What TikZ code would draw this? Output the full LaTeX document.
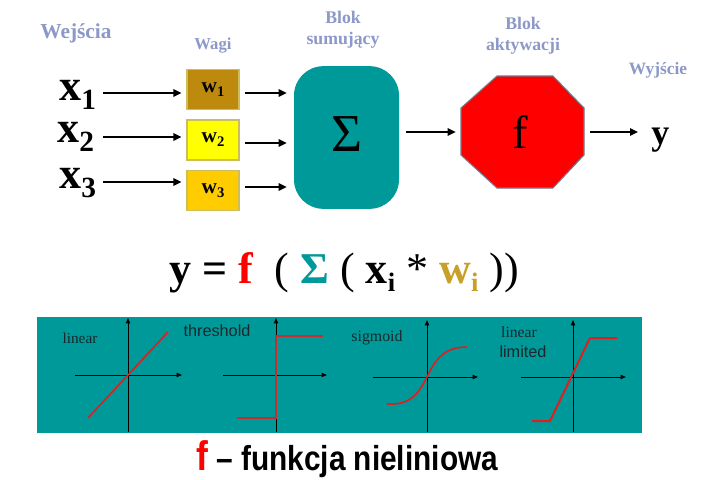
\documentclass[tikz,border=0pt]{standalone}
\usepackage{fontspec}
\setmainfont{Liberation Serif}
\setsansfont{Liberation Sans}
\usetikzlibrary{arrows.meta,calc}
\definecolor{labc}{RGB}{140,152,200}
\definecolor{tealc}{RGB}{0,153,153}
\definecolor{wonec}{RGB}{190,138,14}
\definecolor{wtwoc}{RGB}{255,255,0}
\definecolor{wthreec}{RGB}{255,204,0}
\definecolor{wborder}{RGB}{205,190,90}
\definecolor{wtext}{RGB}{200,160,40}
\definecolor{octborder}{RGB}{110,123,139}
\definecolor{gtext}{RGB}{25,40,45}
\definecolor{curvec}{RGB}{225,30,30}
\definecolor{threshc}{RGB}{200,45,45}
\newcommand{\thinp}[1]{{\mdseries #1}}
\tikzset{
  lab/.style={text=labc, font=\bfseries\fontsize{13.3}{15.8}\selectfont, align=center, inner sep=0pt},
  inp/.style={font=\bfseries\fontsize{33}{33}\selectfont, inner sep=0pt, anchor=base west},
  wbox/.style={draw=wborder, line width=0.8pt, minimum width=39pt, minimum height=29.5pt, inner sep=0pt, font=\bfseries\fontsize{16}{16}\selectfont},
  arr/.style={line width=1.6pt, -{Triangle[length=6pt,width=5.5pt]}},
  sumbox/.style={fill=tealc, rounded corners=22pt, minimum width=78.75pt, minimum height=107pt, inner sep=0pt},
  axis/.style={line width=0.7pt, -{Triangle[length=4pt,width=3.2pt]}},
  gl/.style={text=gtext, inner sep=0pt},
  curve/.style={curvec, line width=1.2pt},
}
\begin{document}
\begin{tikzpicture}[x=0.75pt,y=-0.75pt]
\useasboundingbox[fill=white] (0,0) rectangle (704,479);

% top labels
\node[lab, font=\bfseries\fontsize{16}{18}\selectfont] (wej) at (76,33) {Wejścia};
\node[lab, font=\bfseries\fontsize{12.5}{14}\selectfont] (wagi) at (213,46) {Wagi};
\node[lab] (bsum) at (343,30) {Blok\\sumujący};
\node[lab] (bakt) at (523,36) {Blok\\aktywacji};
\node[lab, font=\bfseries\fontsize{13}{15}\selectfont] (wyj) at (658,70) {Wyjście};

% inputs
\node[inp] (x1) at (59,100) {x\raisebox{-7pt}{\fontsize{22}{22}\selectfont 1}};
\node[inp] (x2) at (57,142) {x\raisebox{-7pt}{\fontsize{22}{22}\selectfont 2}};
\node[inp] (x3) at (59,188) {x\raisebox{-7pt}{\fontsize{22}{22}\selectfont 3}};

% weights
\node[wbox, fill=wonec] (w1) at (213,89.5) {w\raisebox{-3pt}{\fontsize{11}{11}\selectfont 1}};
\node[wbox, fill=wtwoc, minimum height=30pt] (w2) at (213,140) {w\raisebox{-3pt}{\fontsize{11}{11}\selectfont 2}};
\node[wbox, fill=wthreec] (w3) at (213,190.5) {w\raisebox{-3pt}{\fontsize{11}{11}\selectfont 3}};

% sum block
\node[sumbox] (sum) at (346.5,137.5) {};
\node[inner sep=0pt, font=\fontsize{40}{40}\selectfont] (sig) at (347,134.5) {Σ};

% activation block
\node[minimum width=92.25pt, minimum height=84pt, inner sep=0pt] (act) at (522.5,132) {};
\draw[fill=red, draw=octborder, line width=0.8pt]
  (497,76) -- (553,76) -- (584,108) -- (584,155) -- (553,188) -- (497,188) -- (461,155) -- (461,108) -- cycle;
\node[inner sep=0pt, font=\fontsize{35}{35}\selectfont] (fn) at (520,132) {f};

% output
\node[inner sep=0pt, anchor=base west, font=\bfseries\fontsize{27}{27}\selectfont] (y) at (651,144) {y};

% arrows
\draw[arr] ($(w1.west)+(-83,3.5)$) -- ($(w1.west)+(-5,3.5)$);
\draw[arr] ($(w2.west)+(-83,-3)$) -- ($(w2.west)+(-5,-3)$);
\draw[arr] ($(w3.west)+(-83,-8.5)$) -- ($(w3.west)+(-5,-8.5)$);
\draw[arr] ($(w1.east)+(5,3.5)$) -- ($(w1.east -| sum.west)+(-7,3.5)$);
\draw[arr] ($(w2.east)+(5,3)$) -- ($(w2.east -| sum.west)+(-7,3)$);
\draw[arr] ($(w3.east)+(5,-3.5)$) -- ($(w3.east -| sum.west)+(-7,-3.5)$);
\draw[arr] ($(sum.east |- act.west)+(7,0)$) -- ($(act.west)+(-5,0)$);
\draw[arr] ($(act.east)+(6,0)$) -- ($(y.west |- act.east)+(-13,0)$);

% equation
\node[inner sep=0pt, anchor=base, font=\bfseries\fontsize{33}{33}\selectfont] (eq) at (344,283)
  {y = \textcolor{red}{f}\ \ \thinp{(} \textcolor{tealc}{Σ} \thinp{(} x\raisebox{-6pt}{\fontsize{20}{20}\selectfont i} \thinp{*} \textcolor{wtext}{w\raisebox{-6pt}{\fontsize{20}{20}\selectfont i}} \thinp{))}};

% bottom panel
\node[fill=tealc, minimum width=453.75pt, minimum height=87pt, inner sep=0pt] (panel) at (339.5,375) {};

% graph 1 linear
\draw[axis] (75,375) -- (182,375);
\draw[axis] (128,432) -- (128,318);
\draw[curve] (88,418) -- (168,332);
\node[gl, font=\fontsize{11.5}{12}\selectfont] (t1) at (80,338) {linear};

% graph 2 threshold
\draw[axis] (223,375) -- (327,375);
\draw[axis] (276,432) -- (276,318);
\draw[threshc, line width=2pt] (237,418) -- (276,418) -- (276,336) -- (323,336);
\node[gl, font=\sffamily\fontsize{12.2}{13}\selectfont] (t2) at (217,331) {threshold};

% graph 3 sigmoid
\draw[axis] (373,377) -- (478,377);
\draw[axis] (427,432) -- (427,320);
\draw[curve] (387,404) .. controls (410,405) and (418,395) .. (427,377) .. controls (436,358) and (445,347) .. (467,347);
\node[gl, font=\fontsize{11.9}{12}\selectfont] (t3) at (377,338) {sigmoid};

% graph 4 linear limited
\draw[axis] (521,377) -- (626,377);
\draw[axis] (573,432) -- (573,320);
\draw[curve, line width=1.5pt] (532,421) -- (550,421) -- (590,338) -- (617,338);
\node[gl, font=\fontsize{11.7}{12}\selectfont] (t4a) at (519,332) {linear};
\node[gl, font=\sffamily\fontsize{12.2}{13}\selectfont] (t4b) at (523,352) {limited};

% bottom caption
\node[inner sep=0pt, anchor=base west, font=\sffamily\bfseries] (cap) at (196,470)
  {\scalebox{0.86}[1]{\textcolor{red}{\fontsize{31}{31}\selectfont f}\fontsize{26}{26}\selectfont\ – funkcja nieliniowa}};
\end{tikzpicture}
\end{document}
